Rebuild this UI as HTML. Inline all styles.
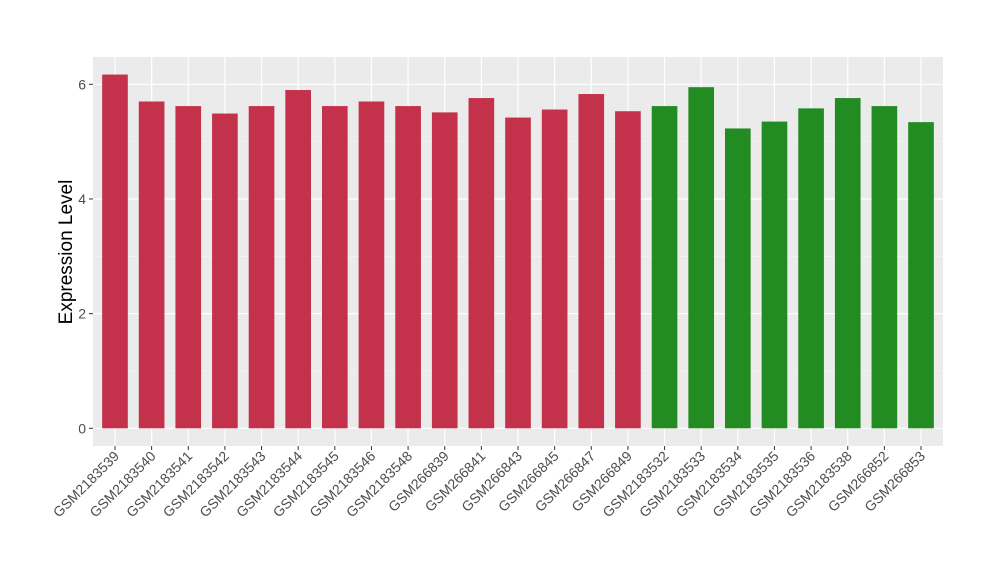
<!DOCTYPE html>
<html><head><meta charset="utf-8"><style>
body{margin:0;background:#fff;}
svg text{font-family:"Liberation Sans",Arial,sans-serif;}
</style></head><body>
<svg width="1000" height="580" viewBox="0 0 1000 580">
<rect x="93" y="57" width="850" height="389" fill="#ebebeb"/>
<g id="grid"></g><g id="bars"></g><g id="axes"></g>
<text transform="translate(72,252) rotate(-90)" text-anchor="middle" font-size="19" fill="#000">Expression Level</text>
</svg>
<script>
const categories=["GSM2183539","GSM2183540","GSM2183541","GSM2183542","GSM2183543","GSM2183544","GSM2183545","GSM2183546","GSM2183548","GSM266839","GSM266841","GSM266843","GSM266845","GSM266847","GSM266849","GSM2183532","GSM2183533","GSM2183534","GSM2183535","GSM2183536","GSM2183538","GSM266852","GSM266853"];
const values=[6.17,5.70,5.62,5.49,5.62,5.90,5.62,5.70,5.62,5.51,5.76,5.42,5.56,5.83,5.53,5.62,5.95,5.23,5.35,5.58,5.76,5.62,5.34];
const groups=[0,0,0,0,0,0,0,0,0,0,0,0,0,0,0,1,1,1,1,1,1,1,1];
const yTicks=[0,2,4,6];
</script>
<script>
const NS="http://www.w3.org/2000/svg";
const L=93,R=943,T=57,B=446;
const n=categories.length;
const step=(R-L)/(n-1+1.2);
const xs=i=>L+(0.6+i)*step;
const y0=428.3,y6=84.3;
const ys=v=>y0+(y6-y0)*v/6;
const colors=["#c3314a","#228b22"];
function mk(tag,attrs,parent){const e=document.createElementNS(NS,tag);for(const k in attrs)e.setAttribute(k,attrs[k]);parent.appendChild(e);return e;}
const grid=document.getElementById('grid'),bars=document.getElementById('bars'),axes=document.getElementById('axes');
for(let v=1;v<=7;v+=2){const y=ys(v);if(y<T)continue;const l=mk('line',{x1:L,x2:R,y1:y,y2:y,stroke:'#f5f5f5','stroke-width':0.6},grid);}
yTicks.forEach(v=>{const y=ys(v);
const l=mk('line',{x1:L,x2:R,y1:y,y2:y,stroke:'#fff','stroke-width':1.2},grid);


const t=mk('line',{x1:L-4,x2:L,y1:y,y2:y,stroke:'#333','stroke-width':1},axes);


const tx=mk('text',{x:L-7,y:y+5,'text-anchor':'end','font-size':14,fill:'#4d4d4d'},axes);tx.textContent=v;

});
categories.forEach((c,i)=>{const x=xs(i);
const g=mk('line',{x1:x,x2:x,y1:T,y2:B,stroke:'#fff','stroke-width':1.2},grid);


const w=step*0.7;
const b=mk('rect',{x:x-w/2,y:ys(values[i]),width:w,height:y0-ys(values[i]),fill:colors[groups[i]]},bars);


const t=mk('line',{x1:x,x2:x,y1:B,y2:B+4,stroke:'#333','stroke-width':1},axes);


const tx=mk('text',{transform:`translate(${x+5},${B+11}) rotate(-45)`,'text-anchor':'end','font-size':14,fill:'#4d4d4d'},axes);tx.textContent=c;

});
</script>
</body></html>
